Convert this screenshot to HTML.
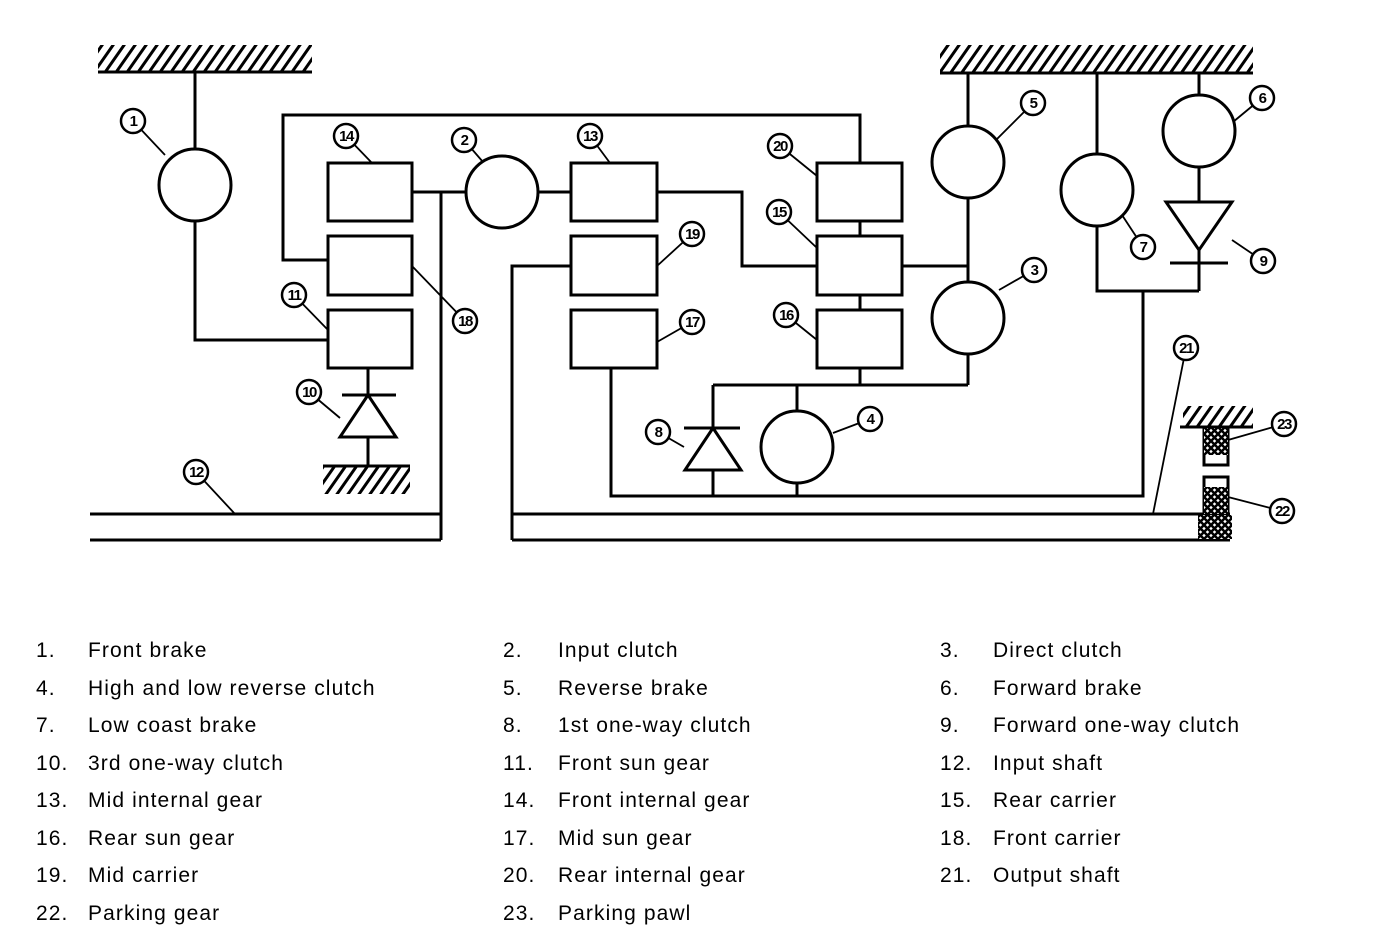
<!DOCTYPE html>
<html><head><meta charset="utf-8"><style>
html,body{margin:0;padding:0;background:#fff;}
svg{display:block;}
text{font-family:"Liberation Sans",sans-serif;}
.l{font-size:21px;fill:#000;letter-spacing:1.1px;}
.n{font-size:15px;font-weight:bold;text-anchor:middle;letter-spacing:-1.5px;}
</style></head><body>
<svg width="1376" height="932" viewBox="0 0 1376 932" xmlns="http://www.w3.org/2000/svg">
<defs>
<pattern id="h" width="9" height="9" patternUnits="userSpaceOnUse" patternTransform="rotate(35)"><rect width="9" height="9" fill="#fff"/><rect width="3" height="9" fill="#000"/></pattern>
<pattern id="x" width="7" height="7" patternUnits="userSpaceOnUse"><rect width="7" height="7" fill="#fff"/><path d="M0,0L7,7M7,0L0,7" stroke="#000" stroke-width="2.5"/></pattern>
</defs>
<g fill="none" stroke="#000" stroke-width="3">
<rect x="98" y="45" width="214" height="27" fill="url(#h)" stroke="none"/>
<line x1="98" y1="72" x2="312" y2="72"/>
<rect x="940" y="45" width="313" height="28" fill="url(#h)" stroke="none"/>
<line x1="940" y1="73" x2="1253" y2="73"/>
<rect x="323" y="467" width="87" height="27" fill="url(#h)" stroke="none"/>
<line x1="323" y1="466" x2="410" y2="466"/>
<rect x="1183" y="406" width="70" height="20" fill="url(#h)" stroke="none"/>
<line x1="1180" y1="427" x2="1253" y2="427"/>
<path d="M195,72V149M195,221V340H328"/>
<circle cx="195" cy="185" r="36"/>
<path d="M328,260H283V115H860V163"/>
<rect x="328" y="163" width="84" height="58"/>
<rect x="328" y="236" width="84" height="59"/>
<rect x="328" y="310" width="84" height="58"/>
<path d="M412,192H466M441,192V540M90,514H441M90,540H441"/>
<circle cx="502" cy="192" r="36"/>
<path d="M538,192H571"/>
<path d="M368,368V395M342,395H396M368,395L340,437H396Z M368,437V466"/>
<rect x="571" y="163" width="86" height="58"/>
<rect x="571" y="236" width="86" height="59"/>
<rect x="571" y="310" width="86" height="58"/>
<path d="M657,192H742V266H817"/>
<path d="M571,266H512V540M512,514H1230M512,540H1230"/>
<path d="M611,368V496H1143V291"/>
<rect x="817" y="163" width="85" height="58"/>
<rect x="817" y="236" width="85" height="59"/>
<rect x="817" y="310" width="85" height="58"/>
<path d="M860,221V236M860,295V310M860,368V385M713,385H968"/>
<path d="M902,266H968M968,73V126M968,198V282M968,354V385"/>
<circle cx="968" cy="162" r="36"/>
<circle cx="968" cy="318" r="36"/>
<path d="M713,385V428M684,428H740M713,428L685,470H741Z M713,470V496"/>
<path d="M797,385V411M797,483V496"/>
<circle cx="797" cy="447" r="36"/>
<path d="M1097,73V154M1097,226V291H1199"/>
<circle cx="1097" cy="190" r="36"/>
<path d="M1199,73V95M1199,167V202M1166,202H1232L1199,250Z M1170,263H1228M1199,250V291"/>
<circle cx="1199" cy="131" r="36"/>
<rect x="1204" y="428" width="24" height="37" fill="#fff"/>
<rect x="1204" y="428" width="24" height="27" fill="url(#x)" stroke="none"/>
<rect x="1204" y="477" width="24" height="37" fill="#fff"/>
<rect x="1204" y="487" width="24" height="27" fill="url(#x)" stroke="none"/>
<rect x="1198" y="515" width="34" height="24" fill="url(#x)" stroke="none"/>
</g>
<g stroke="#000" stroke-width="1.8" fill="none">
<path d="M133,121L165,155M346,136L372,163M464,140L483,162M590,136L610,163M780,146L817,176M779,212L817,248M692,234L657,266M692,322L657,342M465,321L412,266M294,295L328,330M309,392L340,418M196,472L235,514M658,432L684,447M870,419L833,433M786,315L817,340M1033,103L996,140M1262,98L1233,122M1143,247L1122,215M1263,261L1232,240M1034,270L999,290M1186,348L1153,514M1284,424L1228,440M1282,511L1228,497"/>
</g>
<g fill="#fff" stroke="#000" stroke-width="2.5">
<circle cx="133" cy="121" r="12"/><circle cx="346" cy="136" r="12"/><circle cx="464" cy="140" r="12"/><circle cx="590" cy="136" r="12"/><circle cx="780" cy="146" r="12"/><circle cx="779" cy="212" r="12"/><circle cx="692" cy="234" r="12"/><circle cx="692" cy="322" r="12"/><circle cx="465" cy="321" r="12"/><circle cx="294" cy="295" r="12"/><circle cx="309" cy="392" r="12"/><circle cx="196" cy="472" r="12"/><circle cx="658" cy="432" r="12"/><circle cx="870" cy="419" r="12"/><circle cx="786" cy="315" r="12"/><circle cx="1033" cy="103" r="12"/><circle cx="1262" cy="98" r="12"/><circle cx="1143" cy="247" r="12"/><circle cx="1263" cy="261" r="12"/><circle cx="1034" cy="270" r="12"/><circle cx="1186" cy="348" r="12"/><circle cx="1284" cy="424" r="12"/><circle cx="1282" cy="511" r="12"/>
</g>
<g class="n">
<text x="133" y="126">1</text><text x="346" y="141">14</text><text x="464" y="145">2</text><text x="590" y="141">13</text><text x="780" y="151">20</text><text x="779" y="217">15</text><text x="692" y="239">19</text><text x="692" y="327">17</text><text x="465" y="326">18</text><text x="294" y="300">11</text><text x="309" y="397">10</text><text x="196" y="477">12</text><text x="658" y="437">8</text><text x="870" y="424">4</text><text x="786" y="320">16</text><text x="1033" y="108">5</text><text x="1262" y="103">6</text><text x="1143" y="252">7</text><text x="1263" y="266">9</text><text x="1034" y="275">3</text><text x="1186" y="353">21</text><text x="1284" y="429">23</text><text x="1282" y="516">22</text>
</g>
<g class="l">
<text x="36" y="657">1.</text><text x="88" y="657">Front brake</text>
<text x="503" y="657">2.</text><text x="558" y="657">Input clutch</text>
<text x="940" y="657">3.</text><text x="993" y="657">Direct clutch</text>
<text x="36" y="695">4.</text><text x="88" y="695">High and low reverse clutch</text>
<text x="503" y="695">5.</text><text x="558" y="695">Reverse brake</text>
<text x="940" y="695">6.</text><text x="993" y="695">Forward brake</text>
<text x="36" y="732">7.</text><text x="88" y="732">Low coast brake</text>
<text x="503" y="732">8.</text><text x="558" y="732">1st one-way clutch</text>
<text x="940" y="732">9.</text><text x="993" y="732">Forward one-way clutch</text>
<text x="36" y="770">10.</text><text x="88" y="770">3rd one-way clutch</text>
<text x="503" y="770">11.</text><text x="558" y="770">Front sun gear</text>
<text x="940" y="770">12.</text><text x="993" y="770">Input shaft</text>
<text x="36" y="807">13.</text><text x="88" y="807">Mid internal gear</text>
<text x="503" y="807">14.</text><text x="558" y="807">Front internal gear</text>
<text x="940" y="807">15.</text><text x="993" y="807">Rear carrier</text>
<text x="36" y="845">16.</text><text x="88" y="845">Rear sun gear</text>
<text x="503" y="845">17.</text><text x="558" y="845">Mid sun gear</text>
<text x="940" y="845">18.</text><text x="993" y="845">Front carrier</text>
<text x="36" y="882">19.</text><text x="88" y="882">Mid carrier</text>
<text x="503" y="882">20.</text><text x="558" y="882">Rear internal gear</text>
<text x="940" y="882">21.</text><text x="993" y="882">Output shaft</text>
<text x="36" y="920">22.</text><text x="88" y="920">Parking gear</text>
<text x="503" y="920">23.</text><text x="558" y="920">Parking pawl</text>
</g>
</svg>
</body></html>
